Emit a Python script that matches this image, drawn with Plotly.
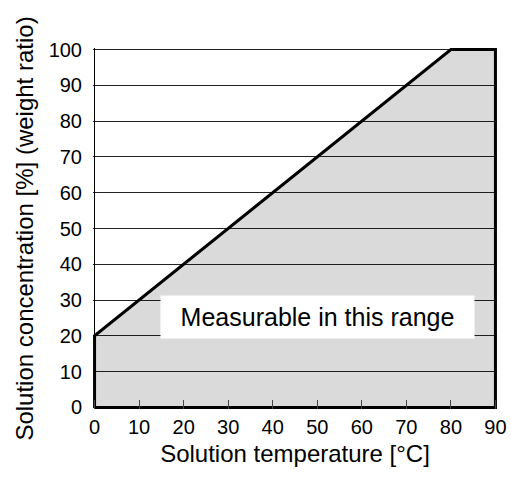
import plotly.graph_objects as go

# Boundary of the measurable region
temperature = [0, 0, 80, 90, 90, 0]
concentration = [0, 20, 100, 100, 0, 0]

x_ticks = [0, 10, 20, 30, 40, 50, 60, 70, 80, 90]
y_ticks = [0, 10, 20, 30, 40, 50, 60, 70, 80, 90, 100]

label_text = "Measurable in this range"
label_x = 50
label_y = 25.2

FONT = "Liberation Sans, Arial, Helvetica, sans-serif"

fig = go.Figure()
fig.add_trace(go.Scatter(
    x=temperature, y=concentration,
    mode="lines", fill="toself",
    fillcolor="rgba(0,0,0,0.145)",
    line=dict(color="black", width=3),
    hoverinfo="skip", showlegend=False,
))

fig.add_annotation(
    x=label_x, y=label_y, xref="x", yref="y",
    text=label_text, showarrow=False,
    font=dict(family=FONT, size=25, color="black"),
    bgcolor="white", width=313, height=42, borderpad=0,
    align="center", valign="middle",
)

fig.update_xaxes(
    range=[-0.35, 90.35], automargin=False,
    tickvals=x_ticks, ticktext=[str(v) for v in x_ticks],
    ticks="inside", ticklen=9, tickwidth=1, tickcolor="#444",
    showgrid=False, zeroline=True, zerolinecolor="black", zerolinewidth=1,
    showline=False,
    tickfont=dict(family=FONT, size=20, color="black"),
    title=dict(text="Solution temperature [°C]",
               font=dict(family=FONT, size=24, color="black"), standoff=8),
    ticklabelstandoff=4,
)
fig.update_yaxes(
    range=[-0.45, 100.45], automargin=False,
    tickvals=y_ticks, ticktext=[str(v) for v in y_ticks],
    ticks="outside", ticklen=6, tickcolor="rgba(0,0,0,0)",
    showgrid=True, gridcolor="#222", gridwidth=1,
    zeroline=False, showline=False,
    tickfont=dict(family=FONT, size=20, color="black"),
    title=dict(text="Solution concentration [%] (weight ratio)",
               font=dict(family=FONT, size=24, color="black"), standoff=8),
)

fig.update_layout(
    width=511, height=478,
    margin=dict(l=92.5, r=13.5, t=48.4, b=69.4, pad=0),
    plot_bgcolor="white", paper_bgcolor="white",
    font=dict(family=FONT, color="black"),
)

fig.write_html("out.html", config={"displayModeBar": False},
               post_script="document.body.style.margin='0px';")
